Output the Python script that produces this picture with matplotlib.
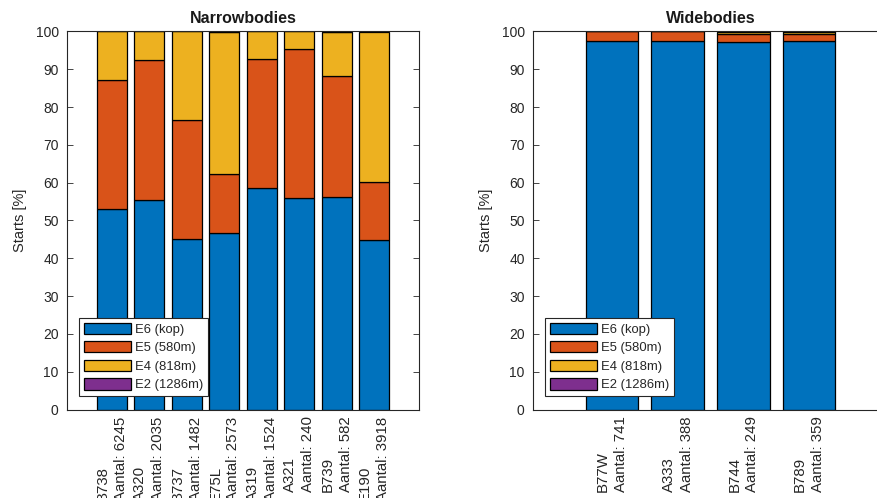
import matplotlib
matplotlib.use("Agg")
import matplotlib.pyplot as plt
import numpy as np

plt.rcParams['font.family'] = ['Liberation Sans', 'DejaVu Sans']

# Runway entry share per aircraft type (percent of starts)
narrow_types = ['B738', 'A320', 'B737', 'E75L', 'A319', 'A321', 'B739', 'E190']
narrow_counts = [6245, 2035, 1482, 2573, 1524, 240, 582, 3918]
narrow_e6 = [53.0, 55.4, 45.1, 46.7, 58.5, 55.9, 56.1, 44.8]
narrow_e5 = [34.2, 37.0, 31.5, 15.6, 34.1, 39.5, 32.0, 15.3]
narrow_e4 = [12.8, 7.6, 23.4, 37.6, 7.4, 4.6, 11.8, 39.9]
narrow_e2 = [0.0, 0.0, 0.0, 0.1, 0.0, 0.0, 0.1, 0.0]

wide_types = ['B77W', 'A333', 'B744', 'B789']
wide_counts = [741, 388, 249, 359]
wide_e6 = [97.4, 97.4, 97.1, 97.4]
wide_e5 = [2.6, 2.6, 2.2, 1.9]
wide_e4 = [0.0, 0.0, 0.6, 0.6]
wide_e2 = [0.0, 0.0, 0.1, 0.1]

series_names = ['E6 (kop)', 'E5 (580m)', 'E4 (818m)', 'E2 (1286m)']
colors = ['#0072BD', '#D95319', '#EDB120', '#7E2F8E']
axis_col = '#262626'

W, H = 877, 498
fig = plt.figure(figsize=(W / 100, H / 100), dpi=100)


def panel(rect, title, types, counts, stacks, xlim):
    ax = fig.add_axes(rect)
    x = np.arange(1, len(types) + 1)
    bottom = np.zeros(len(types))
    for vals, name, c in zip(stacks, series_names, colors):
        vals = np.asarray(vals)
        ax.bar(x, vals, width=0.8, bottom=bottom, color=c, edgecolor='black',
               linewidth=0.9, label=name, zorder=2)
        bottom += vals
    ax.set_xlim(*xlim)
    ax.set_ylim(0, 100)
    ax.set_yticks(np.arange(0, 101, 10))
    ax.set_xticks(x)
    labels = [f"{t}\nAantal: {n}" for t, n in zip(types, counts)]
    ax.set_xticklabels(labels, rotation=90, ha='center', va='top',
                       multialignment='left', linespacing=1.35)
    ax.tick_params(axis='both', direction='in', length=4, width=0.6,
                   colors=axis_col, labelsize=10, top=True, right=True)
    ax.tick_params(axis='x', pad=5, labelsize=10.8)
    ax.tick_params(axis='y', pad=6)
    for s in ax.spines.values():
        s.set_color(axis_col)
        s.set_linewidth(0.8)
    ax.set_ylabel('Starts [%]', fontsize=10.5, color=axis_col, labelpad=6)
    ax.set_title(title, fontsize=11.5, fontweight='bold', color='#1a1a1a', pad=6)
    aw = rect[2] * W
    ah = rect[3] * H
    leg = ax.legend(loc='lower left', bbox_to_anchor=(12 / aw, 13.5 / ah),
                    borderaxespad=0, fontsize=9.4, handlelength=3.6,
                    handleheight=0.95, handletextpad=0.35, labelspacing=0.42,
                    borderpad=0.35, fancybox=False, framealpha=1,
                    edgecolor=axis_col)
    leg.get_frame().set_linewidth(0.8)
    for t in leg.get_texts():
        t.set_color(axis_col)
    return ax


bot = (H - 409.5) / H
hgt = 378 / H
panel([67 / W, bot, 352 / W, hgt], 'Narrowbodies', narrow_types, narrow_counts,
      [narrow_e6, narrow_e5, narrow_e4, narrow_e2], (-0.2, 9.2))
panel([533 / W, bot, 355 / W, hgt], 'Widebodies', wide_types, wide_counts,
      [wide_e6, wide_e5, wide_e4, wide_e2], (-0.2, 5.2))

fig.savefig('out.png', dpi=100)
